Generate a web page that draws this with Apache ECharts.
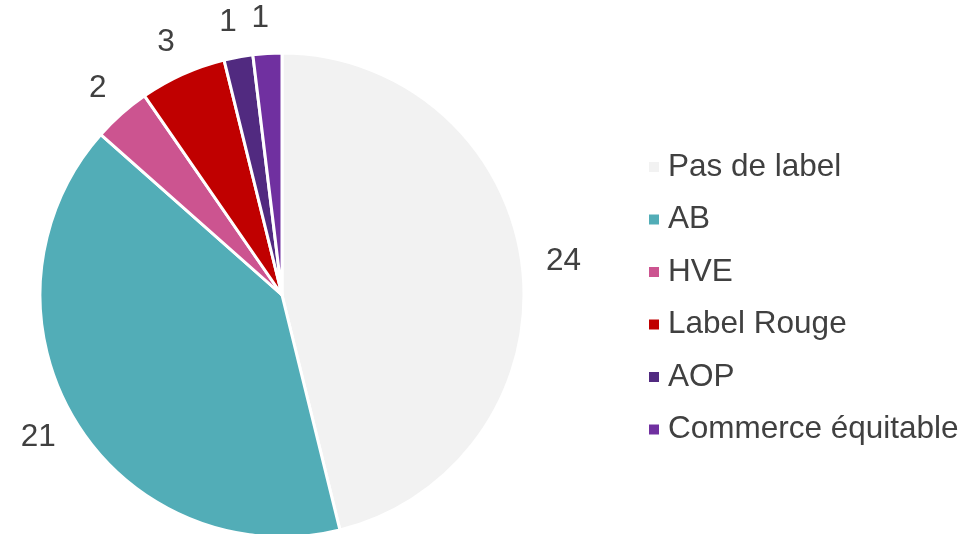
<!DOCTYPE html>
<html><head><meta charset="utf-8">
<script src="https://cdn.jsdelivr.net/npm/echarts@6/dist/echarts.min.js"></script>
<style>html,body{margin:0;padding:0;background:#fff}#c{width:967px;height:534px}</style>
</head><body><div id="c"></div>
<script>
const categories = ['Pas de label', 'AB', 'HVE', 'Label Rouge', 'AOP', 'Commerce équitable'];
const values = [24, 21, 2, 3, 1, 1];
const colors = ['#f2f2f2', '#52adb7', '#cc5490', '#c00000', '#512a80', '#7030a0'];

const CX = 282, CY = 295, R = 242;
const chart = echarts.init(document.getElementById('c'), null, {renderer: 'canvas'});
chart.setOption({
  animation: false,
  color: colors,
  textStyle: {fontFamily: '"Liberation Sans", Arial, sans-serif'},
  legend: {
    orient: 'vertical',
    left: 642,
    top: 146,
    itemWidth: 12,
    itemHeight: 12,
    itemGap: 20.5,
    icon: 'rect',
    textStyle: {fontSize: 31.5, color: '#404040', padding: [0, 0, 0, 3], fontFamily: '"Liberation Sans", Arial, sans-serif'},
    data: categories
  },
  series: [{
    type: 'pie',
    center: [CX, CY],
    radius: R,
    startAngle: 90,
    clockwise: true,
    avoidLabelOverlap: false,
    itemStyle: {borderColor: '#ffffff', borderWidth: 3},
    label: {
      show: true,
      position: 'outside',
      formatter: '{c}',
      fontSize: 31.5,
      color: '#404040',
      fontFamily: '"Liberation Sans", Arial, sans-serif'
    },
    labelLine: {show: false, length: 19, length2: 0},
    labelLayout: function (p) {
      const r = p.labelRect;
      const mx = r.x + r.width / 2, my = r.y + r.height / 2;
      let ux = mx - CX, uy = my - CY;
      const d = Math.sqrt(ux * ux + uy * uy) || 1;
      ux /= d; uy /= d;
      const s = ux >= 0 ? 1 : -1;
      return {dx: ux * r.width / 2 - s * r.width / 2, dy: uy * r.height / 2};
    },
    data: categories.map((n, i) => ({name: n, value: values[i]}))
  }]
});
</script></body></html>
